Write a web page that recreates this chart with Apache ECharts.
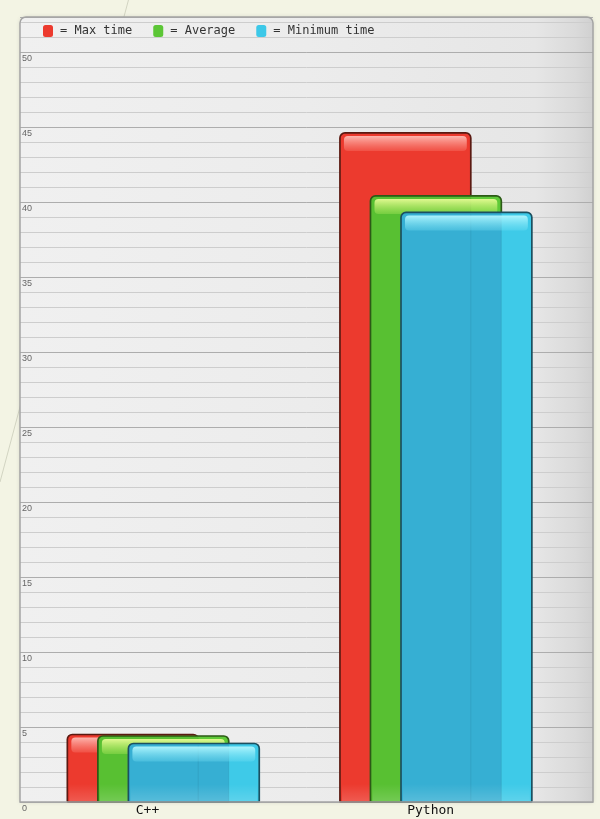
<!DOCTYPE html>
<html>
<head>
<meta charset="utf-8">
<script src="https://cdn.jsdelivr.net/npm/echarts@6/dist/echarts.min.js"></script>
<style>
  html, body { margin: 0; padding: 0; background: #f3f4e4; }
  #chart { width: 600px; height: 819px; }
</style>
</head>
<body>
<div id="chart"></div>
<script>
// Run times per language (seconds)
const categories = ['C++', 'Python'];
const maxTime = [4.5, 44.6];
const averageTime = [4.4, 40.4];
const minimumTime = [3.9, 39.3];
const seriesNames = ['Max time', 'Average', 'Minimum time'];
const yMax = 52.33;

const chart = echarts.init(document.getElementById('chart'));

// Glossy bar drawn from the category/value coordinates.
// Bars further back show through as a slightly darker body; the part of a
// bar that sticks out past the ones behind it is drawn lighter.
function glossyBar(k, fill, light, gloss, border) {
  return function (params, api) {
    const ci = api.value(0);
    const v = api.value(1);
    const base = api.coord([ci, 0]);
    const top = api.coord([ci, v]);
    const band = api.size([1, 0])[0];
    const w = band * 0.48;
    const step = band * 0.112;
    const x = base[0] - (w + 2 * step) / 2 + k * step;
    const y = top[1];
    const h = base[1] - top[1];
    const glossH = Math.min(15, h * 0.35);
    const children = [
      {
        type: 'rect',
        shape: { x: x, y: y, width: w, height: h, r: [5, 5, 1, 1] },
        style: { fill: k > 0 ? fill : light }
      }
    ];
    if (k > 0) {
      children.push({
        type: 'rect',
        shape: { x: x + w - step, y: y, width: step, height: h, r: [0, 5, 1, 0] },
        style: { fill: light }
      });
      for (let j = 1; j <= k; j++) {
        children.push({
          type: 'line',
          shape: { x1: x + w - j * step, y1: y + 2, x2: x + w - j * step, y2: base[1] },
          style: { stroke: 'rgba(0,0,0,0.07)', lineWidth: 1 }
        });
      }
    }
    children.push(
      {
        type: 'rect',
        shape: { x: x + 2, y: base[1] - Math.min(18, h * 0.3), width: w - 4, height: Math.min(18, h * 0.3) - 1 },
        style: {
          fill: new echarts.graphic.LinearGradient(0, 0, 0, 1, [
            { offset: 0, color: 'rgba(255,255,255,0)' },
            { offset: 1, color: 'rgba(255,255,255,0.16)' }
          ])
        }
      },
      {
        type: 'rect',
        shape: { x: x + 4, y: y + 3, width: w - 8, height: glossH, r: 4 },
        style: {
          fill: new echarts.graphic.LinearGradient(0, 0, 0, 1, [
            { offset: 0, color: gloss[0] },
            { offset: 1, color: gloss[1] }
          ])
        }
      },
      {
        type: 'rect',
        shape: { x: x, y: y, width: w, height: h, r: [5, 5, 1, 1] },
        style: { fill: null, stroke: border, lineWidth: 1.7 }
      }
    );
    return { type: 'group', children: children };
  };
}

function toData(values) {
  return values.map((v, i) => [i, v]);
}

const option = {
  backgroundColor: '#f3f4e4',
  animation: false,
  graphic: [
    {
      type: 'line', z: -20,
      shape: { x1: 0, y1: 482, x2: 129, y2: -2 },
      style: { stroke: '#d2d4c2', lineWidth: 1 }
    },
    {
      type: 'rect', z: -10,
      shape: { x: 20, y: 17, width: 573, height: 785, r: [6, 6, 0, 0] },
      style: {
        fill: new echarts.graphic.LinearGradient(0, 0, 1, 0, [
          { offset: 0, color: '#f0f0f0' },
          { offset: 0.5, color: '#ececec' },
          { offset: 0.9, color: '#e6e6e6' },
          { offset: 0.97, color: '#dadada' },
          { offset: 1, color: '#d0d0d0' }
        ]),
        shadowBlur: 4,
        shadowColor: 'rgba(0,0,0,0.15)'
      }
    },
    {
      type: 'rect', z: 100,
      shape: { x: 20, y: 17, width: 573, height: 785, r: [6, 6, 0, 0] },
      style: { fill: null, stroke: '#a4a4a4', lineWidth: 1.5 }
    }
  ],
  legend: {
    left: 43,
    top: 25,
    padding: 0,
    itemWidth: 10,
    itemHeight: 12,
    itemGap: 21,
    icon: 'roundRect',
    data: seriesNames,
    formatter: name => '= ' + name,
    textStyle: {
      fontFamily: 'DejaVu Sans Mono',
      fontSize: 12,
      color: '#333',
      padding: [0, 0, 0, 2]
    }
  },
  grid: [
    { left: 20, right: 7, top: 17, bottom: 17 },
    { left: 27, right: 27.8, top: 17, bottom: 17 },
    { left: -2.3, right: 57.1, top: 17, bottom: 17 }
  ],
  xAxis: [
    { gridIndex: 0, type: 'category', data: categories, show: false },
    { gridIndex: 1, type: 'category', data: categories, show: false },
    {
      gridIndex: 2, type: 'category', data: categories,
      axisLine: { show: false },
      axisTick: { show: false },
      axisLabel: {
        align: 'left',
        margin: 2,
        fontFamily: 'DejaVu Sans Mono',
        fontSize: 13,
        color: '#111'
      }
    }
  ],
  yAxis: [
    {
      gridIndex: 0, type: 'value', position: 'left', min: 0, max: yMax, interval: 1,
      axisLine: { show: false }, axisTick: { show: false },
      axisLabel: { show: false },
      splitLine: { lineStyle: { color: '#cdcdcd', width: 1 } }
    },
    {
      gridIndex: 0, type: 'value', position: 'left', min: 0, max: yMax, interval: 5,
      axisLine: { show: false }, axisTick: { show: false },
      axisLabel: {
        inside: true,
        margin: 2,
        verticalAlign: 'top',
        padding: [2, 0, 0, 0],
        fontFamily: 'Liberation Sans',
        fontSize: 9,
        color: '#666',
        showMaxLabel: false,
        formatter: v => (v % 5 === 0 ? String(v) : '')
      },
      splitLine: { lineStyle: { color: '#adadad', width: 1 } }
    },
    { gridIndex: 1, type: 'value', min: 0, max: yMax, show: false },
    { gridIndex: 2, type: 'value', min: 0, max: yMax, show: false }
  ],
  series: [
    {
      name: seriesNames[0], type: 'custom', xAxisIndex: 1, yAxisIndex: 2,
      itemStyle: { color: '#ec3a2e' },
      encode: { x: 0, y: 1 },
      renderItem: glossyBar(0, '#e6382c', '#ec3a2e', ['rgba(255,195,188,0.9)', 'rgba(255,150,140,0.25)'], '#5a1a12'),
      data: toData(maxTime)
    },
    {
      name: seriesNames[1], type: 'custom', xAxisIndex: 1, yAxisIndex: 2,
      itemStyle: { color: '#5cc636' },
      encode: { x: 0, y: 1 },
      renderItem: glossyBar(1, '#58c032', '#5fca38', ['rgba(232,252,150,0.95)', 'rgba(190,238,100,0.3)'], '#2c5a16'),
      data: toData(averageTime)
    },
    {
      name: seriesNames[2], type: 'custom', xAxisIndex: 1, yAxisIndex: 2,
      itemStyle: { color: '#3cc8e8' },
      encode: { x: 0, y: 1 },
      renderItem: glossyBar(2, '#36afd3', '#3ecae8', ['rgba(180,248,255,0.95)', 'rgba(120,225,245,0.3)'], '#1c5060'),
      data: toData(minimumTime)
    }
  ]
};

chart.setOption(option);
</script>
</body>
</html>
